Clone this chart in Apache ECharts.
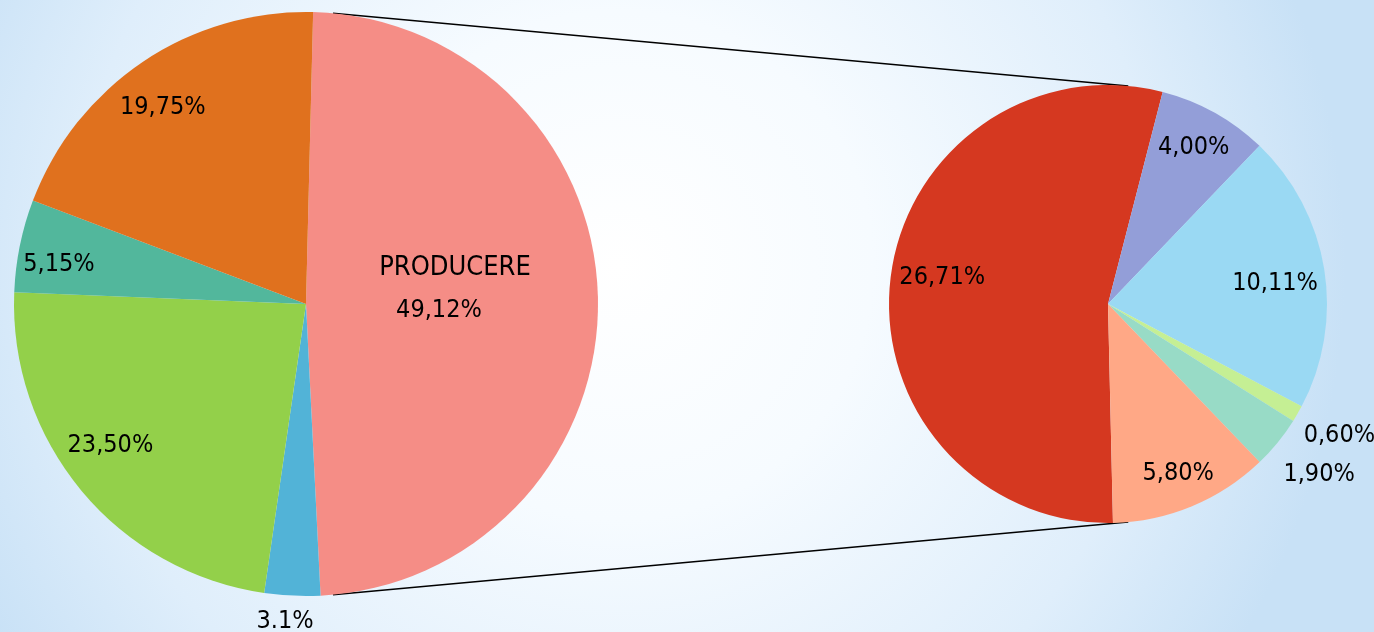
<!DOCTYPE html>
<html>
<head>
<meta charset="utf-8">
<script src="https://cdn.jsdelivr.net/npm/echarts@6/dist/echarts.min.js"></script>
<style>
  html, body { margin: 0; padding: 0; width: 1374px; height: 632px; overflow: hidden; }
  #chart { width: 1374px; height: 632px; }
</style>
</head>
<body>
<div id="chart"></div>
<script>
// ---- data ----
const leftNames  = ['PRODUCERE', 'Categoria 2', 'Categoria 3', 'Categoria 4', 'Categoria 5'];
const leftValues = [49.12, 3.1, 23.50, 5.15, 19.75];
const leftLabels = ['49,12%', '3.1%', '23,50%', '5,15%', '19,75%'];

const rightNames  = ['Subcategoria 1', 'Subcategoria 2', 'Subcategoria 3', 'Subcategoria 4', 'Subcategoria 5', 'Subcategoria 6'];
const rightValues = [26.71, 4.00, 10.11, 0.60, 1.90, 5.80];
const rightLabels = ['26,71%', '4,00%', '10,11%', '0,60%', '1,90%', '5,80%'];

// ---- styles ----
const leftColors  = ['#F58D86', '#52B3D7', '#93D04A', '#52B79C', '#E0711E'];
const rightColors = ['#D53820', '#939ED8', '#9AD9F3', '#C5EF94', '#98DBC6', '#FFA886'];
const leftOffsets  = [[0, -13], [-14, 169], [-81, 46], [-101, -10], [-60, -73]];
const rightOffsets = [[-54, -14], [31, -58], [56, -3], [134, 75], [124, 99], [27, 66]];

const FONT = 'DejaVu Sans Condensed';
const FS = 25;
const L = { cx: 306, cy: 304, r: 292, start: 88.6 };
const R = { cx: 1108, cy: 304, r: 219, start: -88.7 };
const linkAngle = 5.3 * Math.PI / 180;

function pt(c, ang) { // angle clockwise from 12 o'clock
  return [c.cx + c.r * Math.sin(ang), c.cy - c.r * Math.cos(ang)];
}
const lt = pt(L, linkAngle), lb = pt(L, Math.PI - linkAngle);
const rt = pt(R, linkAngle), rb = pt(R, Math.PI - linkAngle);

const chart = echarts.init(document.getElementById('chart'), null, { renderer: 'canvas' });

function mkData(names, values, colors) {
  return names.map((n, i) => ({ name: n, value: values[i], itemStyle: { color: colors[i] } }));
}

chart.setOption({
  animation: false,
  backgroundColor: {
    type: 'radial', x: 0.45, y: 0.42, r: 1.15,
    colorStops: [
      { offset: 0, color: '#ffffff' },
      { offset: 0.35, color: '#f6fbff' },
      { offset: 0.75, color: '#dfeefb' },
      { offset: 1, color: '#c8e1f6' }
    ]
  },
  graphic: [
    { type: 'line', shape: { x1: lt[0], y1: lt[1], x2: rt[0], y2: rt[1] }, style: { stroke: '#000', lineWidth: 1.6 }, z: 0 },
    { type: 'line', shape: { x1: lb[0], y1: lb[1], x2: rb[0], y2: rb[1] }, style: { stroke: '#000', lineWidth: 1.6 }, z: 0 }
  ],
  series: [
    {
      type: 'pie',
      center: [L.cx, L.cy],
      radius: L.r,
      startAngle: L.start,
      clockwise: true,
      avoidLabelOverlap: false,
      silent: true,
      itemStyle: { borderWidth: 0 },
      emphasis: { disabled: true },
      data: mkData(leftNames, leftValues, leftColors),
      label: {
        show: true,
        position: 'inside',
        fontFamily: FONT,
        fontSize: FS,
        color: '#000',
        formatter: p => p.dataIndex === 0
          ? '{n|' + p.name + '}\n{v|' + leftLabels[p.dataIndex] + '}'
          : leftLabels[p.dataIndex],
        rich: {
          n: { fontFamily: FONT, fontSize: FS + 2, color: '#000', lineHeight: 43 },
          v: { fontFamily: FONT, fontSize: FS, color: '#000', lineHeight: 43, padding: [0, 32, 0, 0] }
        }
      },
      labelLine: { show: false },
      labelLayout: p => ({ dx: leftOffsets[p.dataIndex][0], dy: leftOffsets[p.dataIndex][1] })
    },
    {
      type: 'pie',
      center: [R.cx, R.cy],
      radius: R.r,
      startAngle: R.start,
      clockwise: true,
      avoidLabelOverlap: false,
      silent: true,
      itemStyle: { borderWidth: 0 },
      emphasis: { disabled: true },
      data: mkData(rightNames, rightValues, rightColors),
      label: {
        show: true,
        position: 'inside',
        fontFamily: FONT,
        fontSize: FS,
        color: '#000',
        formatter: p => rightLabels[p.dataIndex]
      },
      labelLine: { show: false },
      labelLayout: p => ({ dx: rightOffsets[p.dataIndex][0], dy: rightOffsets[p.dataIndex][1] })
    }
  ]
});
</script>
</body>
</html>
